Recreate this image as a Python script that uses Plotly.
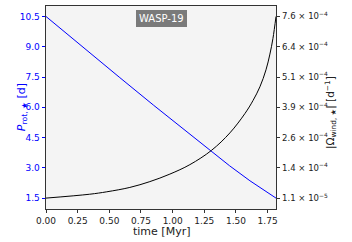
import plotly.graph_objects as go

# Data
t_prot = [0.0, 0.3, 0.583, 0.85, 1.134, 1.307, 1.45, 1.61, 1.816]
p_rot = [10.5, 8.92, 7.47, 6.10, 4.68, 3.80, 3.10, 2.36, 1.5]

t_wind = [0.0, 0.345, 0.48, 0.662, 0.82, 0.978, 1.136, 1.307, 1.452, 1.571,
          1.634, 1.689, 1.737, 1.768, 1.792, 1.816]
omega_wind = [1.1e-5, 2.7e-5, 3.7e-5, 5.5e-5, 7.9e-5, 1.10e-4, 1.49e-4, 2.08e-4,
              2.80e-4, 3.60e-4, 4.13e-4, 4.70e-4, 5.40e-4, 6.05e-4, 6.70e-4, 7.6e-4]

x_ticks = [0.0, 0.25, 0.5, 0.75, 1.0, 1.25, 1.5, 1.75]
left_ticks = [1.5, 3.0, 4.5, 6.0, 7.5, 9.0, 10.5]
right_ticks = [1.1e-5, 1.358e-4, 2.607e-4, 3.855e-4, 5.103e-4, 6.352e-4, 7.6e-4]
right_tick_text = ["1.1 × 10<sup>−5</sup>", "1.4 × 10<sup>−4</sup>", "2.6 × 10<sup>−4</sup>",
                   "3.9 × 10<sup>−4</sup>", "5.1 × 10<sup>−4</sup>", "6.4 × 10<sup>−4</sup>",
                   "7.6 × 10<sup>−4</sup>"]

left_range = [0.96, 11.02]
def to_right(v):
    return right_ticks[0] + (v - left_ticks[0]) / (left_ticks[-1] - left_ticks[0]) * (right_ticks[-1] - right_ticks[0])
right_range = [to_right(left_range[0]), to_right(left_range[1])]

fig = go.Figure()
fig.add_trace(go.Scatter(x=t_prot, y=p_rot, mode="lines", line=dict(color="#0000ff", width=1),
                         yaxis="y", showlegend=False))
fig.add_trace(go.Scatter(x=t_wind, y=omega_wind, mode="lines", line=dict(color="black", width=1),
                         yaxis="y2", showlegend=False, line_shape="spline"))

font = dict(family="DejaVu Sans", size=9, color="#222")
fig.update_layout(
    width=352, height=242,
    margin=dict(l=46, r=76, t=6, b=33),
    paper_bgcolor="white", plot_bgcolor="#f4f4f4",
    font=font,
    xaxis=dict(range=[0, 1.816], tickvals=x_ticks, ticktext=[f"{v:.2f}" for v in x_ticks],
               showgrid=False, zeroline=False, showline=True, linecolor="#333", linewidth=0.8,
               mirror=True, ticks="outside", ticklen=3, tickwidth=0.8, tickcolor="#333",
               tickfont=dict(family="DejaVu Sans", size=9, color="#222")),
    yaxis=dict(range=left_range, tickvals=left_ticks, ticktext=[f"{v:.1f}" for v in left_ticks],
               showgrid=False, zeroline=False, showline=True, linecolor="#333", linewidth=0.8,
               mirror=True, ticks="outside", ticklen=3.5, tickwidth=0.8, tickcolor="#0000ff",
               tickfont=dict(family="DejaVu Sans", size=9, color="#0000ff")),
    yaxis2=dict(range=right_range, tickvals=right_ticks, ticktext=right_tick_text,
                overlaying="y", side="right", showgrid=False, zeroline=False,
                showline=True, linecolor="#333", linewidth=0.8,
                ticks="outside", ticklen=3.5, tickwidth=0.8, tickcolor="#333",
                tickfont=dict(family="DejaVu Sans", size=8.5, color="#222")),
)

fig.add_annotation(text="<i>P</i><sub>rot, ★</sub> [d]", xref="paper", yref="paper",
                   x=-0.145, y=0.5, textangle=-90, showarrow=False,
                   font=dict(family="DejaVu Sans", size=11, color="#0000ff"))
fig.add_annotation(text="|Ω<sub>wind, ★</sub>| [d<sup>−1</sup>]", xref="paper", yref="paper",
                   x=1.282, y=0.477, textangle=-90, showarrow=False,
                   font=dict(family="DejaVu Sans", size=10.5, color="#222"))
fig.add_annotation(text="time [Myr]", xref="paper", yref="paper", x=0.5, y=-0.113,
                   yanchor="middle", showarrow=False,
                   font=dict(family="DejaVu Sans", size=11, color="#222"))
fig.add_annotation(text="WASP-19", xref="paper", yref="paper", x=0.5, y=0.9386,
                   yanchor="middle", showarrow=False, bgcolor="#7a7a7a", bordercolor="#7a7a7a",
                   borderpad=2, font=dict(family="DejaVu Sans", size=10, color="white"))

fig.write_html("out.html", config={"displayModeBar": False},
               post_script="document.body.style.margin='0';")
